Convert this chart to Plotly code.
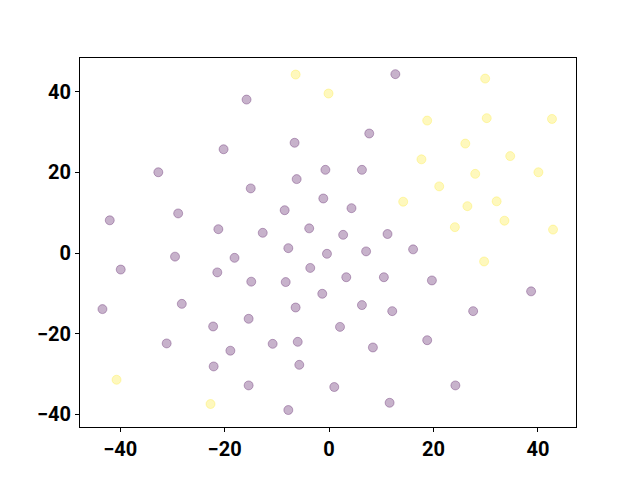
import plotly.graph_objects as go

# class 0 (purple)
x_class0 = [-15.8, -20.2, -6.6, -32.7, -0.7, -6.2, -15.0, -1.1, -8.5, -28.9, -42.0, -21.2, -12.7, -3.8,
            12.7, 7.7, 6.3, 4.3, 2.7, 11.2,
            -7.8, -0.4, -29.5, -18.1, -39.9, -21.4, -3.6, -14.9, -8.3, -1.3, -43.4, -28.2, -6.4, -15.4,
            -22.2, -31.1, -18.9, -10.8, -6.0, -22.1, -5.7, -15.4, -7.8,
            7.1, 16.1, 3.3, 10.5, 19.7, 38.7, 6.3, 12.1, 27.6, 2.1, 8.4, 18.8, 1.0, 24.2, 11.6]
y_class0 = [38.0, 25.7, 27.3, 20.0, 20.6, 18.3, 16.0, 13.5, 10.6, 9.8, 8.1, 5.9, 5.0, 6.1,
            44.3, 29.6, 20.6, 11.1, 4.5, 4.7,
            1.2, -0.2, -0.9, -1.2, -4.1, -4.8, -3.7, -7.1, -7.2, -10.1, -13.9, -12.6, -13.5, -16.3,
            -18.2, -22.4, -24.2, -22.5, -22.0, -28.1, -27.7, -32.8, -38.9,
            0.4, 0.9, -6.0, -6.0, -6.8, -9.5, -12.9, -14.4, -14.4, -18.3, -23.4, -21.6, -33.2, -32.8, -37.1]

# class 1 (yellow)
x_class1 = [-6.4, -0.1, 29.9, 18.8, 30.2, 42.7, 26.1, 34.7, 17.7, 28.0, 40.1, 21.1, 14.2, 26.5,
            32.1, 33.6, 24.1, 42.9, 29.7, -40.7, -22.7]
y_class1 = [44.2, 39.5, 43.2, 32.8, 33.4, 33.2, 27.1, 24.0, 23.2, 19.6, 20.0, 16.5, 12.7, 11.6,
            12.8, 8.0, 6.4, 5.8, -2.1, -31.4, -37.4]

x_ticks = [-40, -20, 0, 20, 40]
y_ticks = [-40, -20, 0, 20, 40]

fig = go.Figure()
for xs, ys, rgb in [(x_class0, y_class0, "68,1,84"), (x_class1, y_class1, "253,231,37")]:
    fig.add_trace(go.Scatter(
        x=xs, y=ys, mode="markers",
        marker=dict(size=9, color=f"rgba({rgb},0.3)",
                    line=dict(width=1, color=f"rgba({rgb},0.3)")),
        showlegend=False, hoverinfo="skip"))

axis_common = dict(showgrid=False, zeroline=False, showline=True, linecolor="black", linewidth=1,
                   mirror=True, ticks="outside", ticklen=4, tickwidth=1, tickcolor="black",
                   tickfont=dict(family="Roboto", size=20, color="black", weight="bold"))
fig.update_xaxes(range=[-47.7, 47.3], tickvals=x_ticks, **axis_common)
fig.update_yaxes(range=[-43.1, 48.3], tickvals=y_ticks, **axis_common)
fig.update_layout(width=640, height=480, margin=dict(l=72, r=72, t=50, b=61),
                  plot_bgcolor="white", paper_bgcolor="white")
fig.write_html("out.html")
